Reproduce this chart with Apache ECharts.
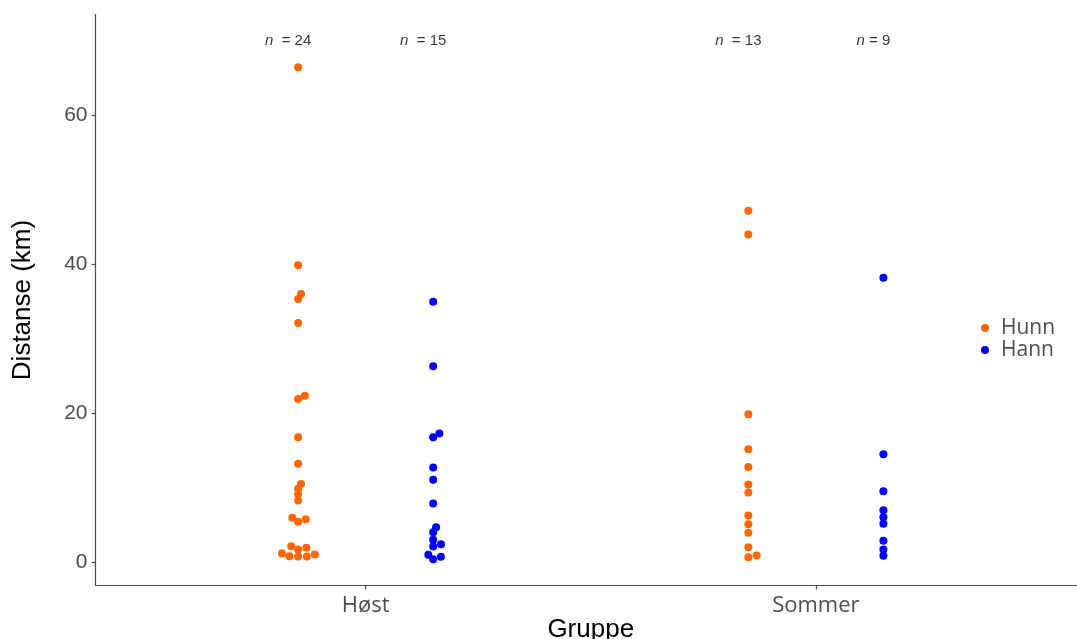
<!DOCTYPE html>
<html>
<head>
<meta charset="utf-8">
<script src="https://cdn.jsdelivr.net/npm/echarts@6/dist/echarts.min.js"></script>
<style>
html,body{margin:0;padding:0;background:#fff;}
#c{width:1077px;height:639px;}
</style>
</head>
<body>
<div id="c"></div>
<script>
// ---- data ----
const categories = ['Høst', 'Sommer'];
const groups = ['Hunn', 'Hann'];
const hostHunn = [66.4, 39.8, 35.95, 35.28, 32.06, 22.31, 21.86, 16.71, 13.15, 10.46, 9.79, 9.03, 8.22,
                  5.90, 5.71, 5.37, 2.09, 1.88, 1.65, 1.11, 0.98, 0.75, 0.71, 0.71];
const hostHann = [34.92, 26.24, 17.21, 16.71, 12.65, 11.0, 7.82, 4.64, 3.97, 2.95, 2.36, 2.05, 0.94, 0.67, 0.35];
const sommerHunn = [47.12, 43.94, 19.80, 15.10, 12.74, 10.37, 9.30, 6.21, 5.04, 3.89, 1.96, 0.85, 0.62];
const sommerHann = [38.14, 14.43, 9.47, 6.92, 5.98, 5.10, 2.82, 1.65, 0.80];
const yTicks = [0, 20, 40, 60];
const nLabelTexts = ['n  = 24', 'n  = 15', 'n  = 13', 'n = 9'];
const nLabelY = 70;

// ---- layout / style ----
const colors = { Hunn: '#FF6600', Hann: '#0000FF' };
const DODGE = 0.15;
const SWARM_X = 8.7;  // px horizontal spacing
const SWARM_Y = 5.3;  // px vertical spacing

const seriesData = {
  Hunn: [hostHunn, sommerHunn],
  Hann: [hostHann, sommerHann]
};
const dodgeSign = { Hunn: -1, Hann: 1 };

const chart = echarts.init(document.getElementById('c'), null, { renderer: 'canvas' });

function groupX(ci, g) { return (ci + 1) + dodgeSign[g] * DODGE; }

function baseData(g) {
  const out = [];
  seriesData[g].forEach((arr, ci) => arr.forEach(v => out.push([groupX(ci, g), v])));
  return out;
}

const labelData = [];
categories.forEach((c, ci) => groups.forEach((g, gi) => {
  labelData.push({ value: [groupX(ci, g), nLabelY], text: nLabelTexts[ci * 2 + gi] });
}));

const axisGrey = '#4d4d4d';

const option = {
  animation: false,
  backgroundColor: '#ffffff',
  grid: { left: 95.5, right: -9, top: 14.5, bottom: 53.5, containLabel: false, outerBoundsMode: 'none' },
  xAxis: {
    type: 'value', min: 0.4, max: 2.6,
    splitLine: { show: false },
    axisLine: { show: true, onZero: false, lineStyle: { color: axisGrey, width: 1.2 } },
    axisTick: { show: true, length: 4, lineStyle: { color: axisGrey, width: 1.2 }, customValues: [1, 2] },
    axisLabel: {
      customValues: [1, 2], margin: 9,
      formatter: v => categories[Math.round(v) - 1] || '',
      color: axisGrey, fontFamily: 'Open Sans', fontSize: 22
    },
    name: 'Gruppe', nameLocation: 'middle', nameGap: 31, nameMoveOverlap: false,
    nameTextStyle: { color: '#000', fontFamily: 'Liberation Sans', fontSize: 26 }
  },
  yAxis: {
    type: 'value', min: -3.185, max: 73.485,
    splitLine: { show: false },
    axisLine: { show: true, onZero: false, lineStyle: { color: axisGrey, width: 1.2 } },
    axisTick: { show: true, length: 4, lineStyle: { color: axisGrey, width: 1.2 }, customValues: yTicks },
    axisLabel: {
      customValues: yTicks, margin: 8,
      color: axisGrey, fontFamily: 'Liberation Sans', fontSize: 21
    },
    name: 'Distanse (km)', nameLocation: 'middle', nameGap: 60,
    nameTextStyle: { color: '#000', fontFamily: 'Liberation Sans', fontSize: 26 }
  },
  legend: {
    data: groups.map(g => ({ name: g, icon: 'circle' })),
    orient: 'vertical', left: 976, top: 312,
    itemWidth: 22, itemHeight: 8, itemGap: 0,
    textStyle: { color: axisGrey, fontFamily: 'Open Sans', fontSize: 21, lineHeight: 22 }
  },
  series: [
    ...groups.map(g => ({
      name: g, type: 'scatter', symbol: 'circle', symbolSize: 8,
      itemStyle: { color: colors[g], opacity: 1 },
      data: baseData(g)
    })),
    {
      name: 'nlabels', type: 'scatter', symbolSize: 0, silent: true,
      data: labelData,
      label: {
        show: true, position: 'inside', offset: [-10, 0],
        formatter: p => '{i|' + p.data.text.charAt(0) + '}{r|' + p.data.text.slice(1) + '}',
        rich: {
          i: { fontFamily: 'Liberation Sans', fontStyle: 'italic', fontSize: 15, color: '#000' },
          r: { fontFamily: 'Liberation Sans', fontSize: 15, color: '#000' }
        }
      }
    }
  ]
};

chart.setOption(option);

// ---- beeswarm layout (computed in pixel space via the chart's scales) ----
function swarm(vals) {
  const idx = vals.map((v, i) => i).sort((a, b) => vals[a] - vals[b]);
  const placed = [];
  const out = new Array(vals.length);
  for (const i of idx) {
    const y = chart.convertToPixel({ gridIndex: 0 }, [1, vals[i]])[1];
    const plus = [], minus = [];
    for (const p of placed) {
      const dy = Math.abs(y - p.y);
      if (dy < SWARM_Y) {
        const dx = SWARM_X * Math.sqrt(1 - (dy / SWARM_Y) ** 2);
        plus.push(p.x + dx); minus.push(p.x - dx);
      }
    }
    const cands = [0, ...plus, ...minus];
    let best = null;
    for (const c of cands) {
      const ok = placed.every(p => ((c - p.x) / SWARM_X) ** 2 + ((y - p.y) / SWARM_Y) ** 2 >= 1 - 1e-6);
      if (ok && (best === null || Math.abs(c) < Math.abs(best) - 1e-9)) best = c;
    }
    placed.push({ x: best, y: y });
    out[i] = best;
  }
  return out;
}

const px1 = chart.convertToPixel({ gridIndex: 0 }, [1, 0])[0];
const px2 = chart.convertToPixel({ gridIndex: 0 }, [2, 0])[0];
const pxPerUnit = px2 - px1;

chart.setOption({
  series: groups.map(g => {
    const data = [];
    seriesData[g].forEach((arr, ci) => {
      const offs = swarm(arr);
      arr.forEach((v, k) => data.push([groupX(ci, g) + offs[k] / pxPerUnit, v]));
    });
    return { name: g, data: data };
  })
});
</script>
</body>
</html>
